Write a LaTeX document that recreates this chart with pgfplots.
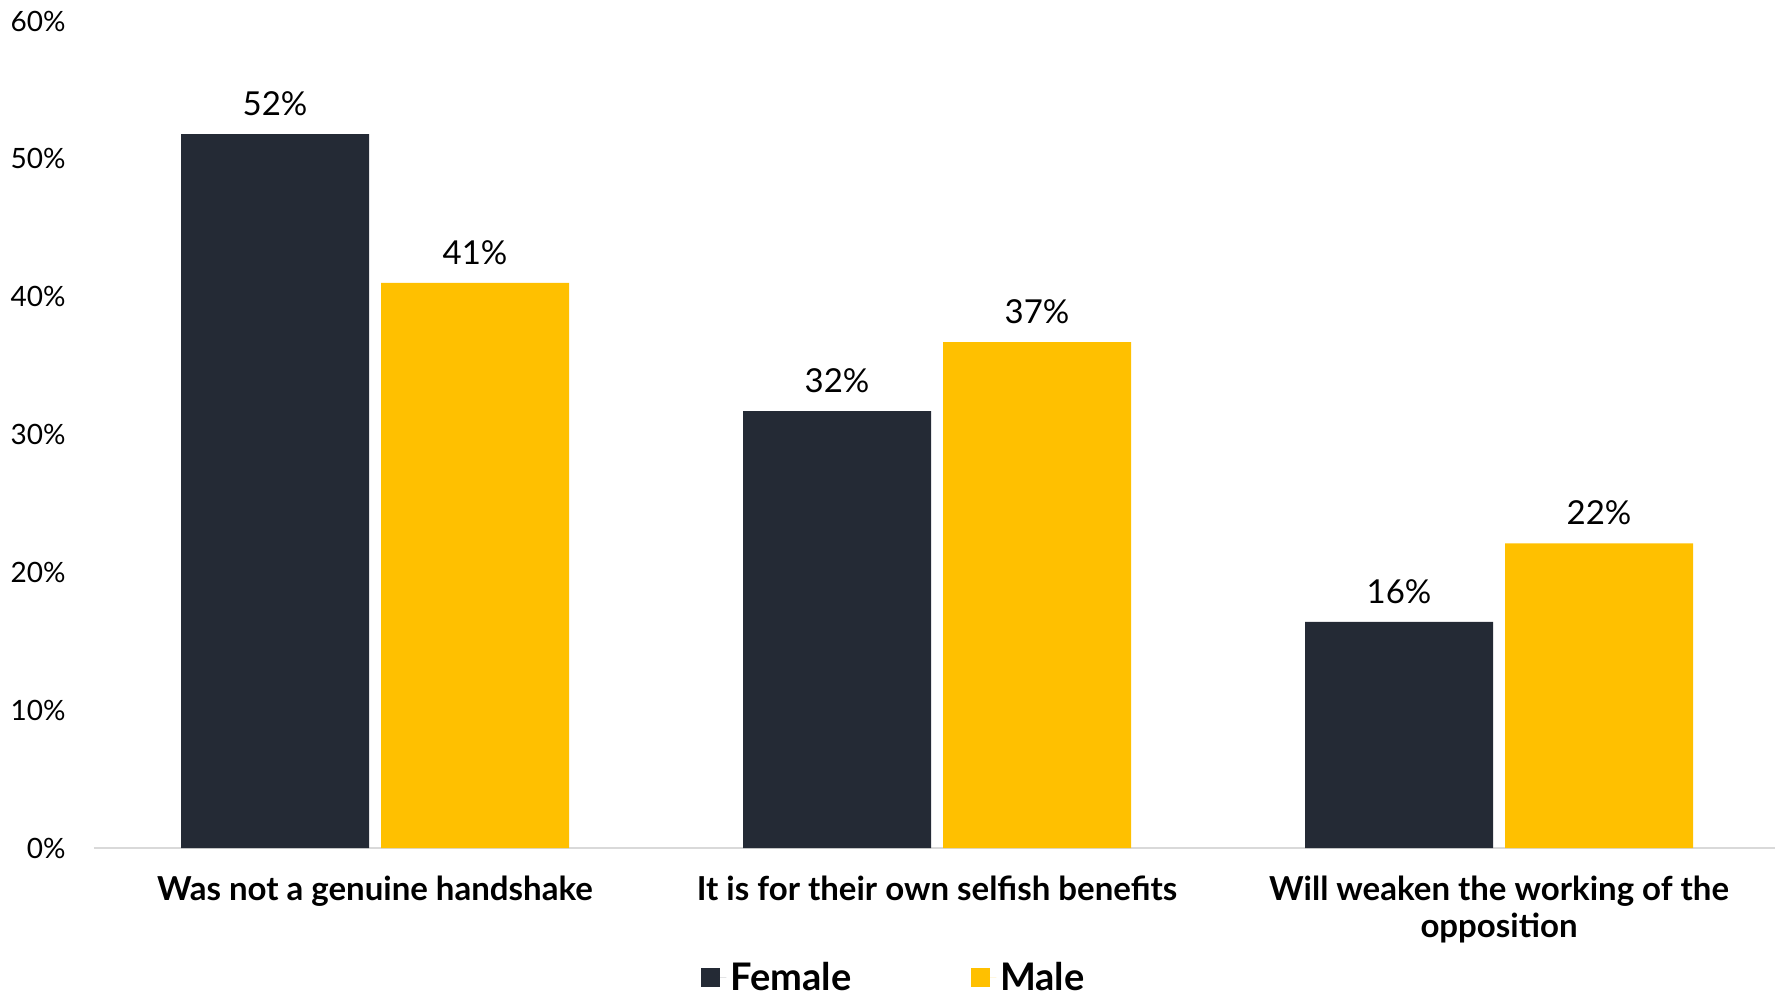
\documentclass[border=0pt]{standalone}
\usepackage{pgfplots}
\pgfplotsset{compat=1.18}
\usepackage{fontspec}
\setmainfont{Lato}
\definecolor{navy}{HTML}{242A35}
\definecolor{gold}{HTML}{FFC000}
\definecolor{axgray}{HTML}{D9D9D9}
\begin{document}
\begin{tikzpicture}
\path[use as bounding box] (0,0) rectangle (887.5pt,497.5pt);
\begin{axis}[
  at={(47pt,73.5pt)}, anchor=south west,
  scale only axis, width=840.5pt, height=413.5pt,
  ybar=6pt, bar width=94pt,
  xmin=-0.5, xmax=2.491, ymin=0, ymax=60,
  xtick={0,1,2},
  xticklabels={Was not a genuine handshake, It is for their own selfish benefits, {Will weaken the working of the\\opposition}},
  ytick={0,10,...,60},
  yticklabel={\pgfmathprintnumber{\tick}\%},
  /pgf/number format/assume math mode=true,
  axis lines=left,
  x axis line style={-, draw=axgray, line width=1.2pt},
  y axis line style={draw=none},
  major tick length=0pt,
  tick style={draw=none},
  yticklabel style={font=\fontsize{14}{16}\selectfont, inner sep=0pt, xshift=-14pt},
  xticklabel style={font=\bfseries\fontsize{16.5}{18.5}\selectfont, align=center, inner sep=0pt, anchor=north, yshift=-14pt},
  nodes near coords={\pgfmathprintnumber[fixed,precision=0]{\pgfplotspointmeta}\%},
  every node near coord/.append style={font=\fontsize{16.5}{20}\selectfont, anchor=south, inner sep=0pt, yshift=9pt, text=black},
  legend style={at={(0.4765,-0.157)}, anchor=center, draw=none, legend columns=2,
    font=\bfseries\fontsize{19}{21}\selectfont,
    /tikz/every even column/.append style={column sep=58pt}},
  legend image code/.code={\fill[#1] (0pt,-4.75pt) rectangle (9.5pt,4.75pt); \path (0pt,0pt) -- (12.5pt,0pt);},
]
\addplot[fill=navy, draw=none] coordinates {(0,51.8) (1,31.7) (2,16.4)};
\addplot[fill=gold, draw=none] coordinates {(0,41.0) (1,36.7) (2,22.1)};
\legend{Female, Male}
\end{axis}
\end{tikzpicture}
\end{document}
